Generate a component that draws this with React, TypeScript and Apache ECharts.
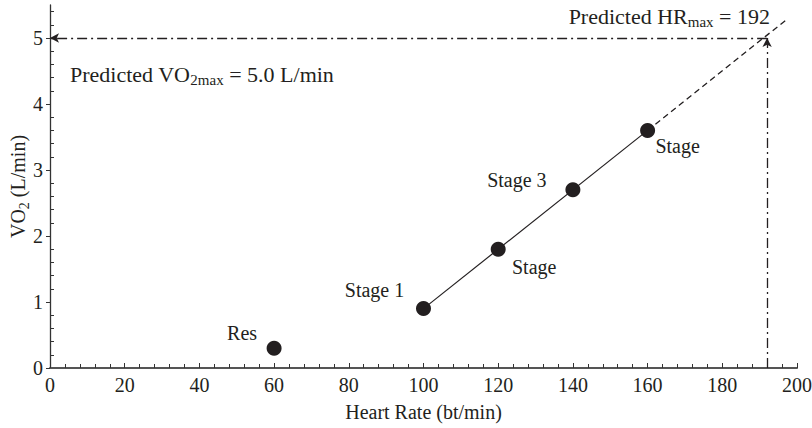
import React, { useEffect, useRef } from "react";
import * as echarts from "echarts";

// ---- data ----
const POINT_LABELS = ["Res", "Stage 1", "Stage", "Stage 3", "Stage"];
const HEART_RATE = [60, 100, 120, 140, 160];
const VO2 = [0.3, 0.9, 1.8, 2.7, 3.6];
const FIT_HR = [100, 160];
const FIT_VO2 = [0.9, 3.6];
const EXTRAP_HR = [160, 197];
const EXTRAP_VO2 = [3.6, 5.27];
const HR_MAX = 192;
const VO2_MAX = 5.0;
const Y_MAJOR_TICKS = [0, 1, 2, 3, 4, 5];
const Y_MINOR_TICKS = [
  0.2, 0.4, 0.6, 0.8, 1.2, 1.4, 1.6, 1.8, 2.2, 2.4, 2.6, 2.8, 3.2, 3.4, 3.6,
  3.8, 4.2, 4.4, 4.6, 4.8, 5.2, 5.4,
];

const INK = "#231f20";
const FONT = "Liberation Serif";
const FS = 20;
const FS_NOTE = 22;

const LABEL_OFFSETS: [number, number][] = [
  [-32, -15],
  [-49, -19],
  [36, 18],
  [-56, -10],
  [30, 16],
];

const SUB = { fontFamily: FONT, fontSize: 14, color: INK, fill: INK, verticalAlign: "bottom", lineHeight: 15 };
const SUB_NOTE = { fontFamily: FONT, fontSize: 15, color: INK, fill: INK, verticalAlign: "bottom", lineHeight: 16 };

export default function App() {
  const ref = useRef<HTMLDivElement>(null);
  useEffect(() => {
    if (!ref.current) return;
    const chart = echarts.init(ref.current, null, { renderer: "svg" });
    const dashDot = [10, 4, 2, 4];
    const option: any = {
      animation: false,
      textStyle: { fontFamily: FONT, color: INK },
      grid: { left: 50, right: 15, top: 5, bottom: 60, containLabel: false, outerBoundsMode: "none" },
      xAxis: {
        type: "value",
        min: 0,
        max: 200,
        interval: 20,
        name: "Heart Rate (bt/min)",
        nameLocation: "middle",
        nameGap: 34,
        nameTextStyle: { fontFamily: FONT, fontSize: FS, color: INK },
        axisLine: { lineStyle: { color: "#555", width: 2 } },
        axisTick: { inside: true, length: 5, lineStyle: { color: "#333" } },
        minorTick: { show: true, splitNumber: 5, length: 4, lineStyle: { color: "#333" } },
        splitLine: { show: false },
        axisLabel: { fontFamily: FONT, fontSize: FS, color: INK, margin: 7 },
      },
      yAxis: [
        {
          type: "value",
          min: 0,
          max: 5.5,
          interval: 1,
          name: "VO{sub|2} (L/min)",
          nameLocation: "middle",
          nameGap: 19,
          nameMoveOverlap: false,
          nameRotate: 90,
          nameTextStyle: {
            fontFamily: FONT,
            fontSize: FS,
            color: INK,
            lineHeight: 26,
            rich: { sub: SUB },
          },
          axisLine: { lineStyle: { color: "#333", width: 1.3 } },
          axisTick: { inside: false, length: 4, customValues: Y_MAJOR_TICKS, lineStyle: { color: "#333" } },
          splitLine: { show: false },
          axisLabel: {
            fontFamily: FONT,
            fontSize: FS,
            color: INK,
            margin: 7,
            customValues: Y_MAJOR_TICKS,
          },
        },
        {
          type: "value",
          min: 0,
          max: 5.5,
          interval: 1,
          position: "left",
          axisLine: { show: false },
          axisTick: { inside: true, length: 4, customValues: Y_MINOR_TICKS, lineStyle: { color: "#333" } },
          axisLabel: { show: false },
          splitLine: { show: false },
        },
      ],
      series: [
        {
          type: "line",
          data: FIT_HR.map((x, i) => [x, FIT_VO2[i]]),
          symbol: "none",
          lineStyle: { color: INK, width: 1.2 },
          silent: true,
        },
        {
          type: "line",
          data: EXTRAP_HR.map((x, i) => [x, EXTRAP_VO2[i]]),
          symbol: "none",
          lineStyle: { color: INK, width: 1.3, type: [6, 4] },
          silent: true,
          markLine: {
            silent: true,
            symbol: ["none", "arrow"],
            symbolSize: [7, 9],
            label: { show: false },
            lineStyle: { color: INK, width: 1.3, type: dashDot },
            data: [
              [{ coord: [HR_MAX, 0] }, { coord: [HR_MAX, VO2_MAX] }],
              [{ coord: [HR_MAX, VO2_MAX] }, { coord: [0, VO2_MAX] }],
            ],
          },
        },
        {
          type: "scatter",
          symbol: "circle",
          symbolSize: 15,
          silent: true,
          itemStyle: { color: INK, opacity: 1 },
          data: HEART_RATE.map((x, i) => ({
            value: [x, VO2[i]],
            label: {
              show: true,
              formatter: POINT_LABELS[i],
              position: "inside",
              offset: LABEL_OFFSETS[i],
              fontFamily: FONT,
              fontSize: FS,
              color: INK,
              opacity: 1,
            },
          })),
        },
      ],
      graphic: [
        {
          type: "text",
          x: 770,
          y: 16,
          style: {
            text: "Predicted HR{sub|max} = " + HR_MAX,
            fontFamily: FONT,
            fontSize: FS_NOTE,
            fill: INK,
            lineHeight: 27,
            align: "right",
            verticalAlign: "middle",
            rich: { sub: SUB_NOTE },
          },
        },
        {
          type: "text",
          x: 70,
          y: 74,
          style: {
            text: "Predicted VO{sub|2max} = " + VO2_MAX.toFixed(1) + " L/min",
            fontFamily: FONT,
            fontSize: FS_NOTE,
            fill: INK,
            lineHeight: 27,
            align: "left",
            verticalAlign: "middle",
            rich: { sub: SUB_NOTE },
          },
        },
      ],
    };
    chart.setOption(option);
    return () => chart.dispose();
  }, []);
  return <div ref={ref} style={{ width: 812, height: 428, position: "absolute", left: 0, top: 0 }} />;
}
